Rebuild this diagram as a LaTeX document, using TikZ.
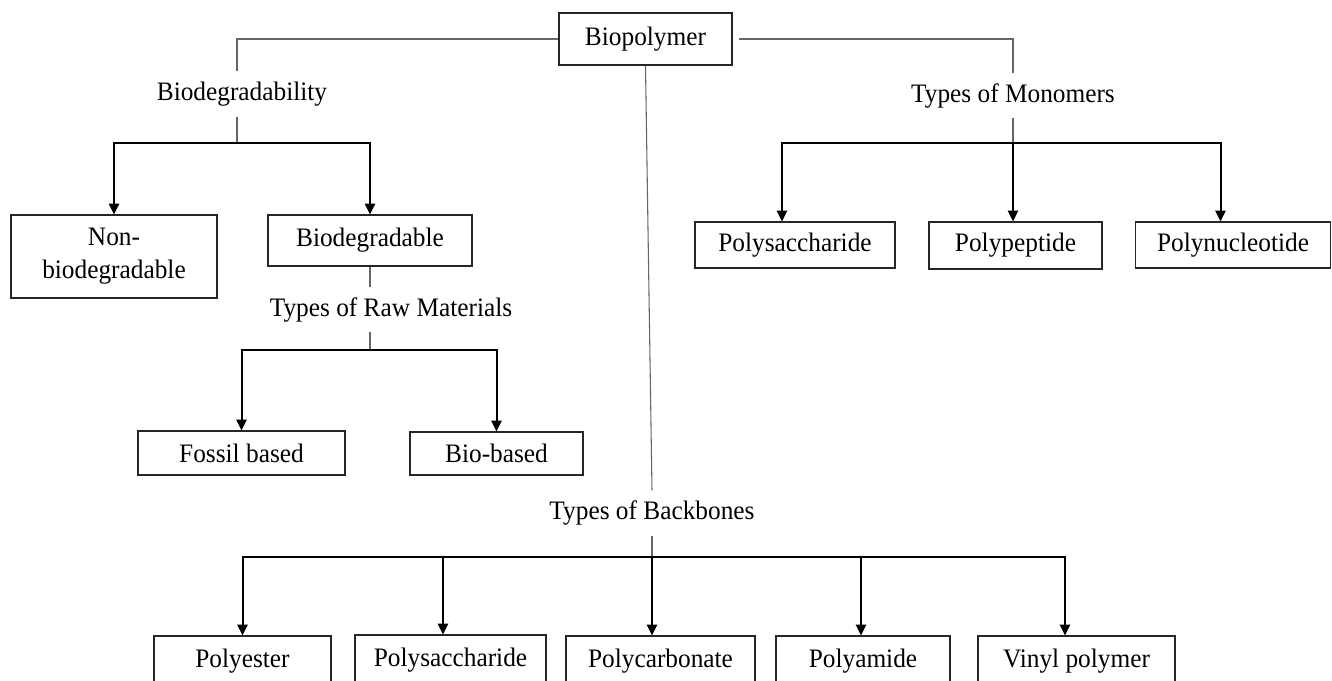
\documentclass[tikz,border=0pt]{standalone}
\usepackage{fontspec}
\setmainfont[FakeStretch=0.95]{Liberation Serif}
\usetikzlibrary{arrows.meta}
\begin{document}
\begin{tikzpicture}[x=0.75pt,y=-0.75pt,
  font=\fontsize{20}{24.75}\selectfont,
  box/.style={draw=black!85, line width=0.9pt, inner sep=0pt, align=center},
  lbl/.style={inner sep=0pt, minimum height=33.5pt},
  thinl/.style={draw=black!60, line width=0.8pt},
  arr/.style={draw=black, line width=1.5pt, -{Triangle[length=8pt,width=7.5pt]}}]
\useasboundingbox (0,0) rectangle (1332,681);
\clip (0,0) rectangle (1332,681);
\fill[white] (0,0) rectangle (1332,681);

% boxes
\node[box, minimum width=129.75pt, minimum height=39pt] (bio) at (645.5,39) {Biopolymer};
\node[box, minimum width=154.5pt, minimum height=62.25pt] (nonb) at (114,256.5) {Non-\\biodegradable};
\node[box, minimum width=153pt, minimum height=38.25pt] (bdgb) at (370,240.5) {Biodegradable};
\node[box, minimum width=155.25pt, minimum height=33pt] (fossil) at (241.5,453) {Fossil based};
\node[box, minimum width=129.75pt, minimum height=32.25pt] (biob) at (496.5,453.5) {Bio-based};
\node[box, minimum width=150pt, minimum height=34.5pt] (ps1) at (795,245) {Polysaccharide};
\node[box, minimum width=129.75pt, minimum height=35.25pt] (ppep) at (1015.5,245.5) {Polypeptide};
\node[box, minimum width=146.25pt, minimum height=34.5pt] (pnuc) at (1233,245) {Polynucleotide};
\node[box, minimum width=132.75pt, minimum height=37.5pt] (pest) at (242.5,661) {Polyester};
\node[box, minimum width=143.25pt, minimum height=37.5pt] (ps2) at (450.5,660) {Polysaccharide};
\node[box, minimum width=141.75pt, minimum height=37.5pt] (pcarb) at (660.5,661) {Polycarbonate};
\node[box, minimum width=130.5pt, minimum height=37.5pt] (pamide) at (863,661) {Polyamide};
\node[box, minimum width=147.75pt, minimum height=37.5pt] (vinyl) at (1076.5,661) {Vinyl polymer};

% labels
\node[lbl] (bdg) at (242,94) {Biodegradability};
\node[lbl] (mono) at (1013,95.5) {Types of Monomers};
\node[lbl] (raw) at (391,309.5) {Types of Raw Materials};
\node[lbl] (bkb) at (652,513) {Types of Backbones};

% junctions
\coordinate (jb) at (237,143);
\coordinate (jm) at (1013,143);
\coordinate (jr) at (370,350);
\coordinate (jk) at (652,557);

% thin connectors
\draw[thinl] (bio.west) -| ([xshift=-3.75pt]bdg.north);
\draw[thinl] ([xshift=5pt]bio.east) -| (mono.north);
\draw[thinl] (bio.south) -- (bkb.north);
\draw[thinl] ([xshift=-3.75pt]bdg.south) -- (jb);
\draw[thinl] (mono.south) -- (jm);
\draw[thinl] (bdgb.south) -- (bdgb.south |- raw.north);
\draw[thinl] (jr |- raw.south) -- (jr);
\draw[thinl] (bkb.south) -- (jk);

% arrows
\draw[arr] (jb) -| (nonb.north);
\draw[arr] (jb) -| (bdgb.north);
\draw[arr] (jr) -| (fossil.north);
\draw[arr] (jr) -| (biob.north);
\draw[arr] (jm) -| ([xshift=-9.75pt]ps1.north);
\draw[arr] (jm) -- (jm |- ppep.north);
\draw[arr] (jm) -| ([xshift=-9.375pt]pnuc.north);
\draw[arr] (jk) -| (pest.north);
\draw[arr] (jk) -| ([xshift=-5.625pt]ps2.north);
\draw[arr] (jk) -- (jk |- pcarb.north);
\draw[arr] (jk) -| ([xshift=-1.5pt]pamide.north);
\draw[arr] (jk) -| ([xshift=-8.625pt]vinyl.north);
\end{tikzpicture}
\end{document}
